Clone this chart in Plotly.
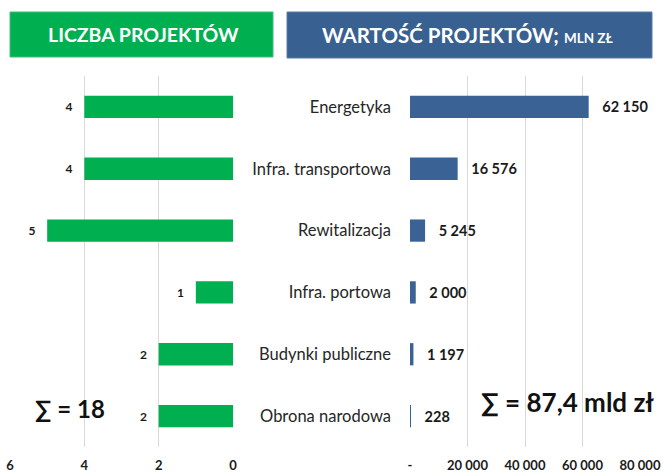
import plotly.graph_objects as go

categories = ["Energetyka", "Infra. transportowa", "Rewitalizacja", "Infra. portowa",
              "Budynki publiczne", "Obrona narodowa"]
project_counts = [4, 4, 5, 1, 2, 2]
project_values = [62150, 16576, 5245, 2000, 1197, 228]
left_ticks = [6, 4, 2, 0]
right_tickvals = [0, 20000, 40000, 60000, 80000]
right_ticktext = ["-", "20 000", "40 000", "60 000", "80 000"]
title_left = "LICZBA PROJEKTÓW"
title_right = "WARTOŚĆ PROJEKTÓW; "
title_right_small = "MLN ZŁ"
sum_left = "∑ = 18"
sum_right = "∑ = 87,4 mld zł"

GREEN = "#00B050"
BLUE_BAR = "#3A6294"
BLUE_HDR = "#386090"
FONT = "Lato, 'Open Sans', sans-serif"
W, H = 663, 473

def px_x(p):
    return p / W

def px_y(p):
    return 1 - p / H

fig = go.Figure()
fig.add_trace(go.Bar(
    y=categories, x=project_counts, orientation="h",
    marker=dict(color=GREEN, line=dict(width=0)), xaxis="x", yaxis="y",
    text=[f"{v}\u00a0\u00a0\u00a0" for v in project_counts],
    textposition="outside", cliponaxis=False, constraintext="none",
    textfont=dict(family=FONT, size=12, color="#1a1a1a", weight="bold"),
    hoverinfo="skip",
))
fig.add_trace(go.Bar(
    y=categories, x=project_values, orientation="h",
    marker=dict(color=BLUE_BAR, line=dict(width=0)), xaxis="x2", yaxis="y2",
    texttemplate="\u00a0\u00a0\u00a0%{x:,}",
    textposition="outside", cliponaxis=False, constraintext="none",
    textfont=dict(family=FONT, size=14.5, color="#1a1a1a", weight="bold"),
    hoverinfo="skip",
))

ydom = [px_y(447), px_y(76)]
ann = dict(xref="paper", yref="paper", showarrow=False, xanchor="center", yanchor="middle")
fig.update_layout(
    template="none",
    width=W, height=H,
    margin=dict(l=0, r=0, t=0, b=0, pad=0),
    paper_bgcolor="white", plot_bgcolor="rgba(0,0,0,0)",
    showlegend=False, bargap=0.64,
    separators=", ",
    font=dict(family=FONT),
    xaxis=dict(domain=[px_x(10), px_x(233)], range=[6, 0], tickvals=left_ticks,
               automargin=False,
               showgrid=True, gridcolor="#D9D9D9", gridwidth=1, zeroline=False,
               showline=False, ticks="", ticklabelstandoff=9,
               tickfont=dict(family=FONT, size=13, color="#1a1a1a", weight="bold")),
    yaxis=dict(domain=ydom, anchor="x", autorange="reversed", showticklabels=False,
               automargin=False,
               showgrid=False, zeroline=False, showline=False, categoryorder="array",
               categoryarray=categories),
    xaxis2=dict(domain=[px_x(410), px_x(640)], range=[0, 80000], tickvals=right_tickvals,
                ticktext=right_ticktext, anchor="y2", automargin=False,
                showgrid=True, gridcolor="#D9D9D9", gridwidth=1, zeroline=False,
                showline=False, ticks="", ticklabelstandoff=9,
                tickfont=dict(family=FONT, size=13, color="#1a1a1a", weight="bold")),
    yaxis2=dict(domain=ydom, anchor="x2", autorange="reversed", showticklabels=True,
                automargin=False,
                showgrid=False, zeroline=False, showline=False, ticks="",
                ticklabelstandoff=18, categoryorder="array", categoryarray=categories,
                tickfont=dict(family=FONT, size=16.5, color="#262626")),
    shapes=[
        dict(type="rect", xref="paper", yref="paper", x0=px_x(10), x1=px_x(273),
             y0=px_y(57), y1=px_y(12), fillcolor=GREEN, line=dict(color="#3CC07A", width=1)),
        dict(type="rect", xref="paper", yref="paper", x0=px_x(287), x1=px_x(652),
             y0=px_y(58), y1=px_y(12), fillcolor=BLUE_HDR, line=dict(color="#5A7CA8", width=1)),
    ],
    annotations=[
        dict(**ann, x=px_x(143), y=px_y(35),
             text=f"<b>{title_left}</b>", font=dict(family=FONT, size=19.5, color="white")),
        dict(**ann, x=px_x(468), y=px_y(35),
             text=f"<b>{title_right}<span style='font-size:13.5px'>{title_right_small}</span></b>",
             font=dict(family=FONT, size=20.5, color="white")),
        dict(**ann, x=px_x(70), y=px_y(408),
             text=f"<b>{sum_left}</b>", font=dict(family=FONT, size=24, color="#111111")),
        dict(**ann, x=px_x(567), y=px_y(402),
             text=f"<b>{sum_right}</b>", font=dict(family=FONT, size=26, color="#111111")),
    ],
)

fig.write_html("out.html", config={"displayModeBar": False},
               post_script="document.body.style.margin='0';")
